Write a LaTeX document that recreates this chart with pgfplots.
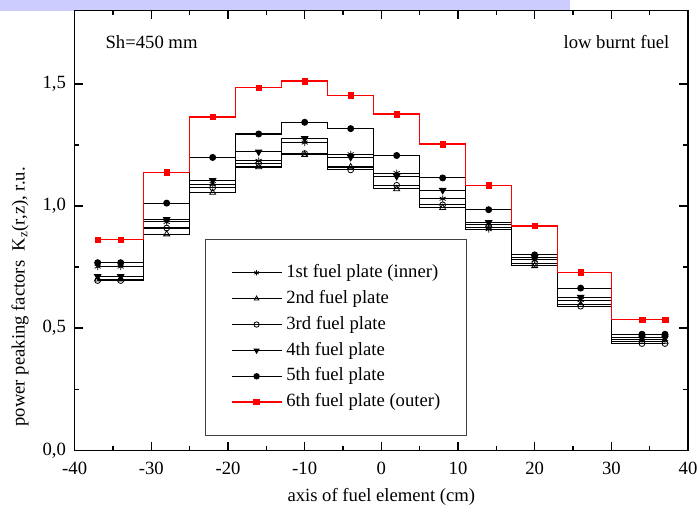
\documentclass[border=0pt]{standalone}
\usepackage{fontspec}
\setmainfont{Liberation Serif}
\usepackage{pgfplots}
\pgfplotsset{compat=1.18}
\usepackage{pgfplotstable}

\definecolor{banner}{RGB}{204,204,255}

% columns: position (cm), plates 1..6
\pgfplotstableread{
x    p1     p2     p3     p4     p5     p6
-37  0.752  0.700  0.695  0.712  0.768  0.862
-34  0.752  0.700  0.695  0.712  0.768  0.862
-28  0.935  0.885  0.910  0.945  1.012  1.138
-22  1.090  1.055  1.075  1.105  1.199  1.365
-16  1.185  1.160  1.175  1.222  1.295  1.485
-10  1.260  1.210  1.215  1.277  1.343  1.512
-4   1.212  1.160  1.148  1.200  1.317  1.453
2    1.135  1.070  1.085  1.122  1.207  1.377
8    1.030  0.993  1.005  1.065  1.115  1.254
14   0.905  0.924  0.914  0.933  0.985  1.084
20   0.780  0.755  0.765  0.790  0.800  0.919
26   0.615  0.597  0.590  0.627  0.664  0.729
34   0.455  0.445  0.437  0.460  0.475  0.535
37   0.455  0.445  0.437  0.460  0.475  0.535
}\plates

\begin{document}
\begin{tikzpicture}[font=\fontsize{14}{17}\selectfont]
\useasboundingbox (-56.0pt,-41.0pt) rectangle (469.0pt,337.7pt);
\fill[banner] (-56.0pt,329.5pt) rectangle (371.5pt,337.7pt);
\begin{axis}[
    scale only axis, width=460pt, height=329.7pt,
    xmin=-40, xmax=40, ymin=0, ymax=1.8,
    xtick={-40,-30,...,40},
    xticklabels={{-40},{-30},{-20},{-10},0,10,20,30,40},
    ytick={0,0.5,1,1.5},
    yticklabels={{0,0},{0,5},{1,0},{1,5}},
    minor x tick num=1, minor y tick num=1,
    tick align=inside,
    major tick length=6.4pt, minor tick length=3.5pt,
    axis line style={line width=1.1pt},
    every tick/.style={black, line width=1pt},
    x tick label style={yshift=-5.5pt},
    y tick label style={xshift=-3pt},
    xlabel={axis of fuel element (cm)},
    xlabel style={at={(axis description cs:0.5,0)}, anchor=center, yshift=-34.8pt},
    ylabel={power peaking factors\ \ K\textsubscript{z}(r,z), r.u.},
    ylabel style={at={([xshift=-41pt]axis description cs:0,0.349)}, anchor=center},
    legend cell align=left,
    legend image code/.code={\draw[mark repeat=2,mark phase=2] plot coordinates {(0pt,0pt)(18.8pt,0pt)(37.6pt,0pt)};},
    every legend image post/.append style={mark size=2pt},
    legend style={at={(axis description cs:0.2125,0.4807)}, anchor=north west,
        draw=black!75, line width=0.8pt, inner xsep=19pt, inner ysep=17.5pt,
        row sep=4.4pt, nodes={inner sep=1pt, text height=10pt, text depth=3pt},
        /tikz/every odd column/.append style={column sep=2pt}},
]
\addplot[const plot mark mid, draw=black, line width=0.8pt, mark=asterisk, mark size=2.6pt, mark options={draw=black, line width=0.6pt}] table[x=x, y=p1] {\plates};
\addlegendentry{1st fuel plate (inner)}
\addplot[const plot mark mid, draw=black, line width=0.8pt, mark=triangle, mark size=2.6pt, mark options={draw=black, fill=white, line width=0.6pt}] table[x=x, y=p2] {\plates};
\addlegendentry{2nd fuel plate}
\addplot[const plot mark mid, draw=black, line width=0.8pt, mark=o, mark size=2.2pt, mark options={draw=black, fill=white, line width=0.6pt}] table[x=x, y=p3] {\plates};
\addlegendentry{3rd fuel plate}
\addplot[const plot mark mid, draw=black, line width=0.8pt, mark=triangle*, mark size=2.6pt, mark options={draw=black, fill=black, rotate=180}] table[x=x, y=p4] {\plates};
\addlegendentry{4th fuel plate}
\addplot[const plot mark mid, draw=black, line width=0.8pt, mark=*, mark size=2.2pt, mark options={draw=black, fill=black}] table[x=x, y=p5] {\plates};
\addlegendentry{5th fuel plate}
% red steps: the inner stroke of a double line carries the red
\addplot[const plot mark mid, mark=none, forget plot, draw=red,
    line width=0.05pt, double=red, double distance=1pt] table[x=x, y=p6] {\plates};
\addplot[only marks, red, mark=square*, mark size=2.1pt, forget plot] table[x=x, y=p6] {\plates};
\addlegendimage{red, line width=1pt, mark=square*, mark size=2.1pt}
\addlegendentry{6th fuel plate (outer)}
\node[anchor=west, inner sep=0pt] at (axis cs:-36,1.673) {Sh=450 mm};
\node[anchor=east, inner sep=0pt] at (axis cs:37.6,1.673) {low burnt fuel};
\end{axis}
\end{tikzpicture}
\end{document}
